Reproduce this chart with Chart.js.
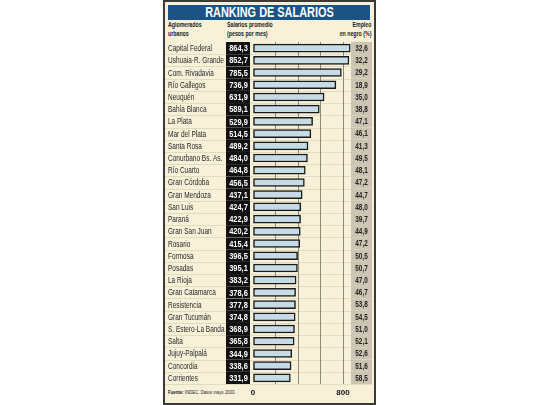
<!DOCTYPE html>
<html>
<head>
<meta charset="utf-8">
<script src="https://cdn.jsdelivr.net/npm/chart.js@4"></script>
<style>
  body { margin: 0; background: #fff; }
  #wrap { position: relative; width: 540px; height: 405px; overflow: hidden;
    font-family: "Liberation Sans", Arial, sans-serif; }
  #panel { position: absolute; left: 163px; top: 0; width: 209px; height: 401px;
    background: #f8f1d9; border: 2px solid #3a3a3a; }
  #title { position: absolute; left: 168px; top: 5px; width: 202px; height: 15px;
    background: #1b5385; color: #fff; font-weight: bold; font-size: 14px; line-height: 15px;
    text-align: center; }
  #title span { display: inline-block; transform: scaleX(0.78); }
  .head { position: absolute; top: 21px; font-size: 7.5px; font-weight: bold; line-height: 8.5px;
    color: #222; transform: scaleX(0.7); transform-origin: left top; white-space: nowrap; }
  .head.r { transform-origin: right top; text-align: right; }
  #foot { position: absolute; left: 168px; top: 389px; font-size: 6px; color: #222;
    transform: scaleX(0.72); transform-origin: left top; white-space: nowrap; }
  canvas { position: absolute; left: 0; top: 0; }
</style>
</head>
<body>
<div id="wrap">
  <div id="panel"></div>
  <div id="title"><span>RANKING DE SALARIOS</span></div>
  <div class="head" style="left:168px">Aglomerados<br>urbanos</div>
  <div class="head" style="left:227px">Salarios promedio<br>(pesos por mes)</div>
  <div class="head r" style="right:169px">Empleo<br>en negro (%)</div>
  <div id="foot"><b>Fuente:</b> INDEC. Datos mayo 2003.</div>
  <canvas id="myChart" width="540" height="405"></canvas>
</div>
<script>
const cities = ["Capital Federal", "Ushuaia-R. Grande", "Com. Rivadavia", "Río Gallegos", "Neuquén",
  "Bahía Blanca", "La Plata", "Mar del Plata", "Santa Rosa", "Conurbano Bs. As.", "Río Cuarto",
  "Gran Córdoba", "Gran Mendoza", "San Luis", "Paraná", "Gran San Juan", "Rosario", "Formosa",
  "Posadas", "La Rioja", "Gran Catamarca", "Resistencia", "Gran Tucumán", "S. Estero-La Banda",
  "Salta", "Jujuy-Palpalá", "Concordia", "Corrientes"];
const salaries = [864.3, 852.7, 785.5, 736.9, 631.9, 589.1, 529.9, 514.5, 489.2, 484.0, 464.8,
  456.5, 437.1, 424.7, 422.9, 420.2, 415.4, 396.5, 395.1, 383.2, 378.6, 377.8, 374.8, 368.9,
  365.8, 344.9, 338.6, 331.9];
const informal = [32.6, 32.2, 29.2, 18.9, 35.0, 38.8, 47.1, 46.1, 41.3, 49.5, 48.1, 47.2, 44.7,
  48.0, 39.7, 44.9, 47.2, 50.5, 50.7, 47.0, 46.7, 53.8, 54.5, 51.0, 52.1, 52.6, 51.6, 58.5];
const shownTicks = [0, 800];

const fontFam = '"Liberation Sans", Arial, sans-serif';
const fmt = (v) => v.toFixed(1).replace(".", ",");

// condensed text: the original uses a narrow face
function narrowText(ctx, text, x, y, sx, align) {
  ctx.save();
  ctx.translate(x, y);
  ctx.scale(sx, 1);
  ctx.textAlign = align;
  ctx.fillText(text, 0, 0);
  ctx.restore();
}

const rowsPlugin = {
  id: "rows",
  beforeDraw(chart) {
    const ctx = chart.ctx;
    const y = chart.scales.y;
    const step = y.getPixelForValue(1) - y.getPixelForValue(0);
    ctx.save();
    cities.forEach((c, i) => {
      const cy = y.getPixelForValue(i);
      ctx.fillStyle = "#cbc6b3";
      ctx.fillRect(351, cy - step / 2, 21, step);
      ctx.fillStyle = "#111";
      ctx.fillRect(226, cy - step / 2, 24, step);
      ctx.strokeStyle = "#e4dbbf";
      ctx.lineWidth = 1;
      ctx.beginPath();
      ctx.moveTo(165, Math.round(cy + step / 2) + 0.5);
      ctx.lineTo(372, Math.round(cy + step / 2) + 0.5);
      ctx.stroke();
    });
    ctx.restore();
  },
  afterDatasetsDraw(chart) {
    const ctx = chart.ctx;
    const y = chart.scales.y;
    ctx.save();
    ctx.textBaseline = "middle";
    y.getLabels().forEach((name, i) => {
      const cy = y.getPixelForValue(i) + 0.5;
      ctx.font = "9px " + fontFam;
      ctx.fillStyle = "#262626";
      narrowText(ctx, name, 168, cy, 0.72, "left");
      ctx.font = "bold 9.5px " + fontFam;
      ctx.fillStyle = "#fff";
      narrowText(ctx, fmt(salaries[i]), 238.5, cy, 0.78, "center");
      ctx.font = "bold 8.5px " + fontFam;
      ctx.fillStyle = "#222";
      narrowText(ctx, fmt(informal[i]), 361.5, cy, 0.75, "center");
    });
    ctx.restore();
  }
};

const chart = new Chart(document.getElementById("myChart"), {
  type: "bar",
  data: {
    labels: cities,
    datasets: [{
      data: salaries,
      backgroundColor: "#c7dbe7",
      borderColor: "#1a1a1a",
      borderWidth: 1.5,
      borderSkipped: false,
      barThickness: 8
    }]
  },
  options: {
    indexAxis: "y",
    responsive: false,
    animation: false,
    layout: { padding: { left: 167, right: 188, top: 42, bottom: 0 } },
    plugins: { legend: { display: false }, tooltip: { enabled: false } },
    scales: {
      x: {
        min: 0,
        max: 880,
        grid: {
          color: (c) => (c.tick && c.tick.value === 0 ? "rgba(0,0,0,0)" : "#8e8975"),
          lineWidth: 1,
          drawTicks: false
        },
        border: { display: false },
        ticks: {
          stepSize: 200,
          includeBounds: false,
          padding: 4,
          color: "#111",
          font: { family: fontFam, size: 8, weight: "bold" },
          callback: (v) => (shownTicks.includes(v) ? String(v) : "")
        },
        afterFit: (s) => { s.height = 21; }
      },
      y: {
        grid: { display: false },
        border: { display: false },
        ticks: { display: false, autoSkip: false },
        afterFit: (s) => { s.width = 86; }
      }
    }
  },
  plugins: [rowsPlugin]
});
</script>
</body>
</html>
